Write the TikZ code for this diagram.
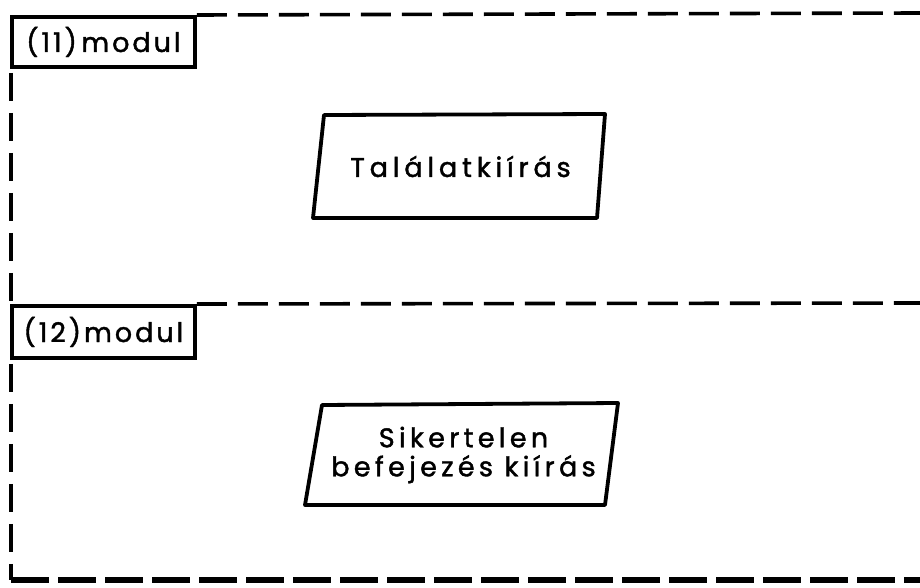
\documentclass[tikz,border=0pt]{standalone}
\usepackage{fontspec}
\setmainfont{Poppins}[LetterSpace=16, FakeBold=1.5]
\begin{document}
\begin{tikzpicture}[x=1pt,y=-1pt,
  hdash/.style={line width=3.6pt, dash pattern=on 30pt off 11pt},
  vdash/.style={line width=3.6pt, dash pattern=on 28pt off 12pt},
  bdash/.style={line width=5.5pt, dash pattern=on 38pt off 9pt},
  solidline/.style={line width=3.8pt, line join=round},
  modbox/.style={draw, line width=3.8pt, anchor=north west, minimum width=183pt,
    minimum height=50pt, inner sep=0pt, font=\fontsize{27}{30}\selectfont\addfontfeature{LetterSpace=11}},
  boxtext/.style={font=\fontsize{27}{30}\selectfont, align=center, inner sep=0pt}
]
\useasboundingbox (0,0) rectangle (920,588);
% module label boxes
\node[modbox] (m11) at (10,15) {(11)\,modul};
\node[modbox, minimum height=52pt] (m12) at (10,304) {(12)modul};
% right ends of dashed separators
\coordinate (r1) at (920,13);
\coordinate (r2) at (920,303);
\coordinate (bl) at (11,580);
\coordinate (br) at (920,580);
\draw[hdash] (m11.north east) -- (r1);
\draw[hdash] (m12.north east) -- (r2);
\draw[vdash] ([xshift=1pt,yshift=-4pt]m11.south west) -- ([xshift=1pt,yshift=3pt]m12.north west);
\draw[vdash] ([xshift=1pt,yshift=-4pt]m12.south west) -- (bl);
\draw[bdash] (bl) -- (br);
% parallelogram 1
\coordinate (p1a) at (324,115);
\coordinate (p1b) at (605,114);
\coordinate (p1c) at (597,218);
\coordinate (p1d) at (313,218);
\draw[solidline] (p1a) -- (p1b) -- (p1c) -- (p1d) -- cycle;
\path (p1a) -- (p1c) node[midway, boxtext] (t1) {\addfontfeature{LetterSpace=18}Találatkiírás};
% parallelogram 2
\coordinate (p2a) at (322,405);
\coordinate (p2b) at (618,403);
\coordinate (p2c) at (605,505);
\coordinate (p2d) at (305,505);
\draw[solidline] (p2a) -- (p2b) -- (p2c) -- (p2d) -- cycle;
\path (p2a) -- (p2c) node[midway, boxtext, font=\fontsize{27}{29}\selectfont] (t2) {Sikertelen\\befejezés kiírás};
\end{tikzpicture}
\end{document}
